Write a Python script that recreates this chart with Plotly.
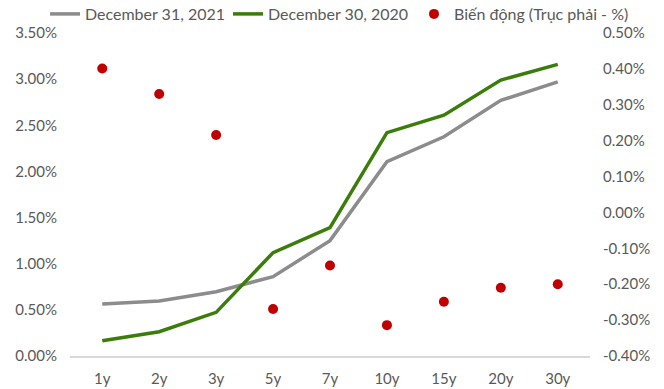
import plotly.graph_objects as go

categories = ["1y", "2y", "3y", "5y", "7y", "10y", "15y", "20y", "30y"]
yield_2021 = [0.563, 0.596, 0.697, 0.86, 1.25, 2.105, 2.375, 2.77, 2.97]
yield_2020 = [0.166, 0.263, 0.473, 1.12, 1.39, 2.42, 2.61, 2.99, 3.16]
change = [0.401, 0.33, 0.216, -0.269, -0.148, -0.314, -0.249, -0.21, -0.20]

left_ticks = [0, 0.5, 1.0, 1.5, 2.0, 2.5, 3.0, 3.5]
right_ticks = [-0.4, -0.3, -0.2, -0.1, 0.0, 0.1, 0.2, 0.3, 0.4, 0.5]

FONT = "Lato, sans-serif"
TXT = "#595959"

PL, PR, PT, PB = 70, 590, 33, 356
W, H = 664, 389


def cx(px):
    return px / W


def cy(py):
    return 1 - py / H


fig = go.Figure()
fig.add_trace(go.Scatter(x=categories, y=yield_2021, mode="lines", name="December 31, 2021",
                         line=dict(color="#8c8c8c", width=3.5), legend="legend"))
fig.add_trace(go.Scatter(x=categories, y=yield_2020, mode="lines", name="December 30, 2020",
                         line=dict(color="#3a7d0a", width=3.5), legend="legend2"))
fig.add_trace(go.Scatter(x=categories, y=change, mode="markers", name="Biến động (Trục phải - %)",
                         marker=dict(color="#c00000", size=10), yaxis="y2", legend="legend3"))

leg_common = dict(orientation="h", yanchor="middle", xanchor="left",
                  xref="container", yref="container",
                  font=dict(family=FONT, size=16, color=TXT), bgcolor="rgba(0,0,0,0)",
                  borderwidth=0)

fig.update_layout(
    width=W, height=H,
    margin=dict(l=PL, r=W - PR, t=PT, b=H - PB),
    plot_bgcolor="white", paper_bgcolor="white",
    font=dict(family=FONT, size=15, color=TXT),
    showlegend=True,
    legend=dict(x=cx(45), y=cy(14), **leg_common),
    legend2=dict(x=cx(228), y=cy(14), **leg_common),
    legend3=dict(x=cx(414), y=cy(14), **leg_common),
    xaxis=dict(showgrid=False, showline=True, linecolor="#d9d9d9", linewidth=1.5,
               ticks="", tickfont=dict(size=15, color=TXT), zeroline=False,
               ticklabelstandoff=8, automargin=False),
    yaxis=dict(range=[0, 3.5], tickvals=left_ticks,
               ticktext=[f"{v:.2f}%" for v in left_ticks],
               showgrid=False, zeroline=False, showline=False, ticks="",
               tickfont=dict(size=15, color=TXT), ticklabelstandoff=12,
               automargin=False),
    yaxis2=dict(range=[-0.4, 0.5], tickvals=right_ticks,
                ticktext=[f"{v:.2f}%" for v in right_ticks],
                overlaying="y", side="right", showgrid=False, zeroline=False,
                showline=False, ticks="", tickfont=dict(size=15, color=TXT),
                ticklabelstandoff=12, automargin=False),
)

fig.write_html("out.html")
